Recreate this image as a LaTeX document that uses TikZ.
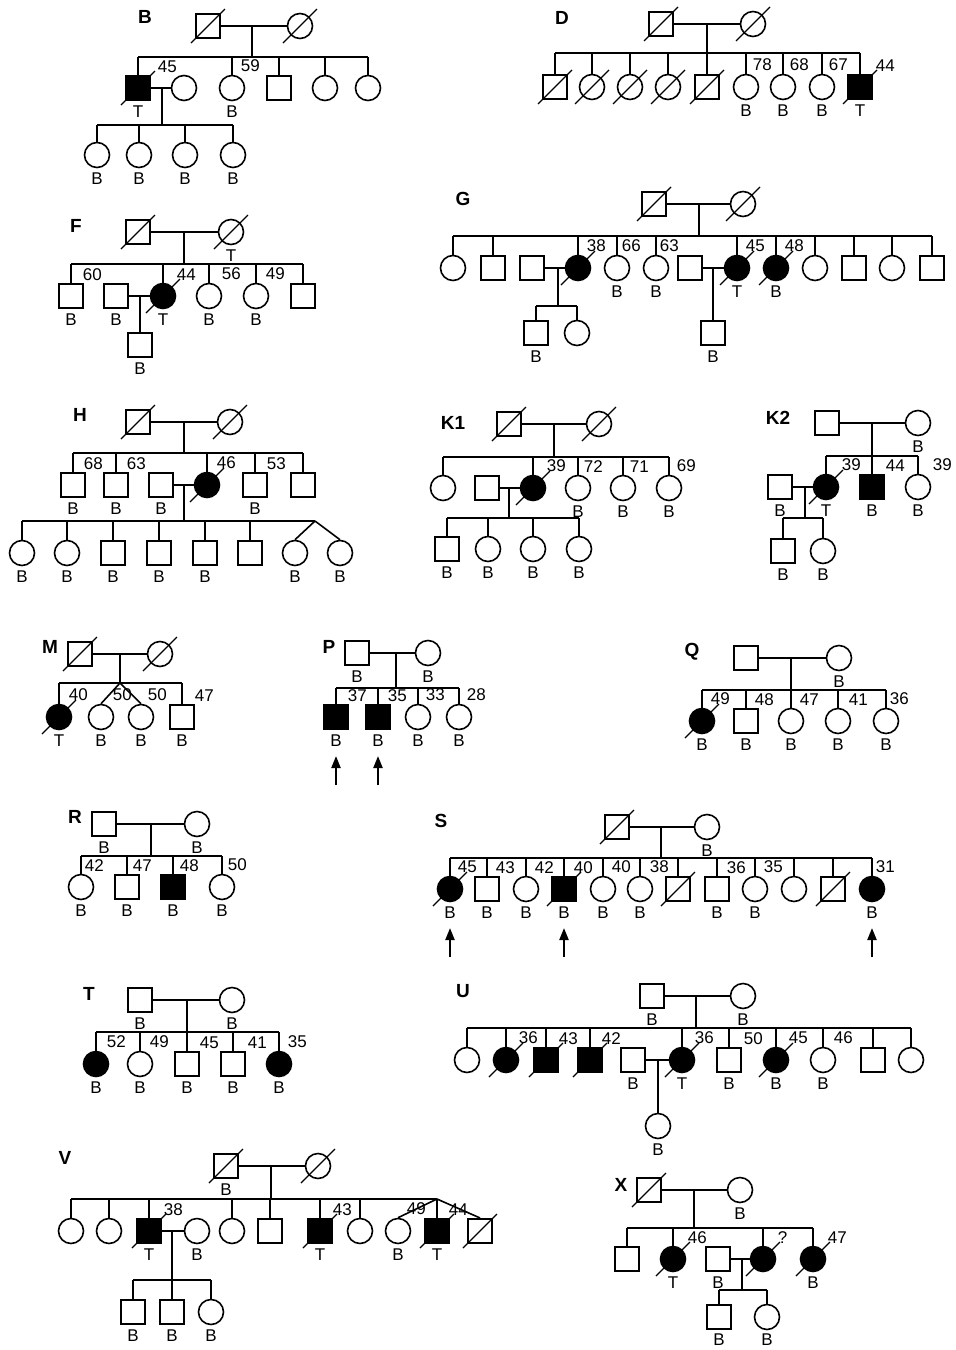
\documentclass[tikz,border=0pt]{standalone}
\usepackage{fontspec}
\setmainfont{Liberation Sans}
\usetikzlibrary{arrows.meta}
\tikzset{
  m/.style={draw, rectangle, minimum size=24.5pt, inner sep=0pt},
  f/.style={draw, circle, minimum size=25pt, inner sep=0pt},
  aff/.style={fill=black},
  fam/.style={font=\fontsize{19}{21}\selectfont\bfseries, inner sep=0pt},
  txt/.style={font=\fontsize{17}{19}\selectfont, inner sep=0pt},
  lb/.style={label={[txt, yshift=-4pt]below:#1}},
  agx/.style 2 args={label={[txt, anchor=south west, xshift=#1, yshift=1.75pt]above:#2}},
  ag/.style={agx={8pt}{#1}},
  dag/.style={agx={13pt}{#1}},
  slash/.style={line width=1.2pt},
  arr/.style={line width=2.2pt, -{Triangle[length=12pt,width=9pt]}},
}
\begin{document}
\begin{tikzpicture}[x=1pt, y=-1pt, line width=1.6pt]
\useasboundingbox (0,0) rectangle (956,1350);
% Family B
\node[fam] (Blab) at (145,17) {B};
\node[m] (B1) at (208,26) {};
\node[f] (B2) at (300,26) {};
\node[m,aff,lb=T,agx={19pt}{45}] (B3) at (138,88) {};
\node[f] (B4) at (184,88) {};
\node[f,lb=B,ag=59] (B5) at (232,88) {};
\node[m] (B6) at (279,88) {};
\node[f] (B7) at (325,88) {};
\node[f] (B8) at (368,88) {};
\node[f,lb=B] (B9) at (97,155) {};
\node[f,lb=B] (B10) at (139,155) {};
\node[f,lb=B] (B11) at (185,155) {};
\node[f,lb=B] (B12) at (233,155) {};
\coordinate (Bd) at (252,57);
\coordinate (Be) at (162,125);
\draw (B1) -- (B2);
\draw (Bd |- B1) -- (Bd);
\draw (B3 |- Bd) -- (B8 |- Bd);
\foreach \c in {B3,B5,B6,B7,B8} \draw (\c) -- (\c |- Bd);
\draw (B3) -- (B4);
\draw (Be |- B3) -- (Be);
\draw (B9 |- Be) -- (B12 |- Be);
\foreach \c in {B9,B10,B11,B12} \draw (\c) -- (\c |- Be);
\foreach \c in {B1,B2,B3} \draw[slash] (\c.center) +(-17,17) -- +(17,-17);
% Family D
\node[fam] (Dlab) at (562,18) {D};
\node[m] (D1) at (661,24) {};
\node[f] (D2) at (753,24) {};
\node[m] (D3) at (555,87) {};
\node[f] (D4) at (592,87) {};
\node[f] (D5) at (630,87) {};
\node[f] (D6) at (668,87) {};
\node[m] (D7) at (707,87) {};
\node[f,lb=B,agx={6pt}{78}] (D8) at (746,87) {};
\node[f,lb=B,agx={6pt}{68}] (D9) at (783,87) {};
\node[f,lb=B,agx={6pt}{67}] (D10) at (822,87) {};
\node[m,aff,lb=T,agx={15pt}{44}] (D11) at (860,87) {};
\coordinate (Dd) at (707,53);
\draw (D1) -- (D2);
\draw (Dd |- D1) -- (Dd);
\draw (D3 |- Dd) -- (D11 |- Dd);
\foreach \c in {D3,D4,D5,D6,D7,D8,D9,D10,D11} \draw (\c) -- (\c |- Dd);
\foreach \c in {D1,D2,D3,D4,D5,D6,D7,D11} \draw[slash] (\c.center) +(-17,17) -- +(17,-17);
% Family F
\node[fam] (Flab) at (76,226) {F};
\node[m] (F1) at (138,232) {};
\node[f,lb=T] (F2) at (231,232) {};
\node[m,lb=B,agx={11pt}{60}] (F3) at (71,296) {};
\node[m,lb=B] (F4) at (116,296) {};
\node[f,aff,lb=T,dag=44] (F5) at (163,296) {};
\node[f,lb=B,agx={12pt}{56}] (F6) at (209,296) {};
\node[f,lb=B,agx={9pt}{49}] (F7) at (256,296) {};
\node[m] (F8) at (303,296) {};
\node[m,lb=B] (F9) at (140,345) {};
\coordinate (Fd) at (184,264);
\draw (F1) -- (F2);
\draw (Fd |- F1) -- (Fd);
\draw (F3 |- Fd) -- (F8 |- Fd);
\foreach \c in {F3,F5,F6,F7,F8} \draw (\c) -- (\c |- Fd);
\draw (F4) -- (F5);
\draw (F9 |- F4) -- (F9);
\foreach \c in {F1,F2,F5} \draw[slash] (\c.center) +(-17,17) -- +(17,-17);
% Family G
\node[fam] (Glab) at (463,199) {G};
\node[m] (G1) at (654,204) {};
\node[f] (G2) at (743,204) {};
\node[f] (G3) at (453,268) {};
\node[m] (G4) at (493,268) {};
\node[m] (G5) at (532,268) {};
\node[f,aff,ag=38] (G6) at (578,268) {};
\node[f,lb=B,agx={4pt}{66}] (G7) at (617,268) {};
\node[f,lb=B,agx={3pt}{63}] (G8) at (656,268) {};
\node[m] (G9) at (690,268) {};
\node[f,aff,lb=T,ag=45] (G10) at (737,268) {};
\node[f,aff,lb=B,ag=48] (G11) at (776,268) {};
\node[f] (G12) at (815,268) {};
\node[m] (G13) at (854,268) {};
\node[f] (G14) at (892,268) {};
\node[m] (G15) at (932,268) {};
\node[m,lb=B] (G16) at (536,333) {};
\node[f] (G17) at (577,333) {};
\node[m,lb=B] (G18) at (713,333) {};
\coordinate (Gd) at (699,236);
\coordinate (Ge) at (558,306);
\draw (G1) -- (G2);
\draw (Gd |- G1) -- (Gd);
\draw (G3 |- Gd) -- (G15 |- Gd);
\foreach \c in {G3,G4,G6,G7,G8,G10,G11,G12,G13,G14,G15} \draw (\c) -- (\c |- Gd);
\draw (G5) -- (G6);
\draw (Ge |- G5) -- (Ge);
\draw (G16 |- Ge) -- (G17 |- Ge);
\foreach \c in {G16,G17} \draw (\c) -- (\c |- Ge);
\draw (G9) -- (G10);
\draw (G18 |- G9) -- (G18);
\foreach \c in {G1,G2,G6,G10,G11} \draw[slash] (\c.center) +(-17,17) -- +(17,-17);
% Family H
\node[fam] (Hlab) at (80,415) {H};
\node[m] (H1) at (138,422) {};
\node[f] (H2) at (230,422) {};
\node[m,lb=B,agx={10pt}{68}] (H3) at (73,485) {};
\node[m,lb=B,agx={10pt}{63}] (H4) at (116,485) {};
\node[m,lb=B] (H5) at (161,485) {};
\node[f,aff,agx={9pt}{46}] (H6) at (207,485) {};
\node[m,lb=B,agx={11pt}{53}] (H7) at (255,485) {};
\node[m] (H8) at (303,485) {};
\node[f,lb=B] (H9) at (22,553) {};
\node[f,lb=B] (H10) at (67,553) {};
\node[m,lb=B] (H11) at (113,553) {};
\node[m,lb=B] (H12) at (159,553) {};
\node[m,lb=B] (H13) at (205,553) {};
\node[m] (H14) at (250,553) {};
\node[f,lb=B] (H15) at (295,553) {};
\node[f,lb=B] (H16) at (340,553) {};
\coordinate (Hd) at (184,453);
\coordinate (He) at (184,521);
\coordinate (Ht) at (315,521);
\draw (H1) -- (H2);
\draw (Hd |- H1) -- (Hd);
\draw (H3 |- Hd) -- (H8 |- Hd);
\foreach \c in {H3,H4,H6,H7,H8} \draw (\c) -- (\c |- Hd);
\draw (H5) -- (H6);
\draw (He |- H5) -- (He);
\draw (H9 |- He) -- (Ht);
\foreach \c in {H9,H10,H11,H12,H13,H14} \draw (\c) -- (\c |- He);
\draw (Ht) -- (H15.north);
\draw (Ht) -- (H16.north);
\foreach \c in {H1,H2,H6} \draw[slash] (\c.center) +(-17,17) -- +(17,-17);
% Family K1
\node[fam] (K1lab) at (453,423) {K1};
\node[m] (K1a) at (509,424) {};
\node[f] (K1b) at (599,424) {};
\node[f] (K1c) at (443,488) {};
\node[m] (K1d) at (487,488) {};
\node[f,aff,dag=39] (K1e) at (533,488) {};
\node[f,lb=B,agx={5pt}{72}] (K1f) at (578,488) {};
\node[f,lb=B,agx={6pt}{71}] (K1g) at (623,488) {};
\node[f,lb=B,agx={7pt}{69}] (K1h) at (669,488) {};
\node[m,lb=B] (K1i) at (447,549) {};
\node[f,lb=B] (K1j) at (488,549) {};
\node[f,lb=B] (K1k) at (533,549) {};
\node[f,lb=B] (K1l) at (579,549) {};
\coordinate (K1s) at (554,457);
\coordinate (K1t) at (509,518);
\draw (K1a) -- (K1b);
\draw (K1s |- K1a) -- (K1s);
\draw (K1c |- K1s) -- (K1h |- K1s);
\foreach \c in {K1c,K1e,K1f,K1g,K1h} \draw (\c) -- (\c |- K1s);
\draw (K1d) -- (K1e);
\draw (K1t |- K1d) -- (K1t);
\draw (K1i |- K1t) -- (K1l |- K1t);
\foreach \c in {K1i,K1j,K1k,K1l} \draw (\c) -- (\c |- K1t);
\foreach \c in {K1a,K1b,K1e} \draw[slash] (\c.center) +(-17,17) -- +(17,-17);
% Family K2
\node[fam] (K2lab) at (778,418) {K2};
\node[m] (K2a) at (827,423) {};
\node[f,lb=B] (K2b) at (918,423) {};
\node[m,lb=B] (K2c) at (780,487) {};
\node[f,aff,lb=T,agx={15pt}{39}] (K2d) at (826,487) {};
\node[m,aff,lb=B,dag=44] (K2e) at (872,487) {};
\node[f,lb=B,agx={14pt}{39}] (K2f) at (918,487) {};
\node[m,lb=B] (K2g) at (783,551) {};
\node[f,lb=B] (K2h) at (823,551) {};
\coordinate (K2s) at (872,456);
\coordinate (K2t) at (805,518);
\draw (K2a) -- (K2b);
\draw (K2s |- K2a) -- (K2s);
\draw (K2d |- K2s) -- (K2f |- K2s);
\foreach \c in {K2d,K2e,K2f} \draw (\c) -- (\c |- K2s);
\draw (K2c) -- (K2d);
\draw (K2t |- K2c) -- (K2t);
\draw (K2g |- K2t) -- (K2h |- K2t);
\foreach \c in {K2g,K2h} \draw (\c) -- (\c |- K2t);
\draw[slash] (K2d.center) +(-17,17) -- +(17,-17);
% Family M
\node[fam] (Mlab) at (50,647) {M};
\node[m] (M1) at (80,654) {};
\node[f] (M2) at (160,654) {};
\node[f,aff,lb=T,agx={9pt}{40}] (M3) at (59,717) {};
\node[f,lb=B,agx={11pt}{50}] (M4) at (101,717) {};
\node[f,lb=B,agx={6pt}{50}] (M5) at (141,717) {};
\node[m,lb=B,agx={12pt}{47}] (M6) at (182,717) {};
\coordinate (Md) at (120,683);
\draw (M1) -- (M2);
\draw (Md |- M1) -- (Md);
\draw (M3 |- Md) -- (M6 |- Md);
\foreach \c in {M3,M6} \draw (\c) -- (\c |- Md);
\draw (Md) -- (M4.north);
\draw (Md) -- (M5.north);
\foreach \c in {M1,M2,M3} \draw[slash] (\c.center) +(-17,17) -- +(17,-17);
% Family P
\node[fam] (Plab) at (329,647) {P};
\node[m,lb=B] (P1) at (357,653) {};
\node[f,lb=B] (P2) at (428,653) {};
\node[m,aff,lb=B,agx={11pt}{37}] (P3) at (336,717) {};
\node[m,aff,lb=B,agx={9pt}{35}] (P4) at (378,717) {};
\node[f,lb=B,agx={7pt}{33}] (P5) at (418,717) {};
\node[f,lb=B,agx={7pt}{28}] (P6) at (459,717) {};
\coordinate (Pd) at (396,688);
\draw (P1) -- (P2);
\draw (Pd |- P1) -- (Pd);
\draw (P3 |- Pd) -- (P6 |- Pd);
\foreach \c in {P3,P4,P5,P6} \draw (\c) -- (\c |- Pd);
\coordinate (Pa1) at (336,785); \coordinate (Pb1) at (336,756);
\coordinate (Pa2) at (378,785); \coordinate (Pb2) at (378,756);
\draw[arr] (Pa1) -- (Pb1);
\draw[arr] (Pa2) -- (Pb2);
% Family Q
\node[fam] (Qlab) at (692,652) {Q};
\node[m] (Q1) at (746,658) {};
\node[f,lb=B] (Q2) at (839,658) {};
\node[f,aff,lb=B,ag=49] (Q3) at (702,721) {};
\node[m,lb=B,ag=48] (Q4) at (746,721) {};
\node[f,lb=B,ag=47] (Q5) at (791,721) {};
\node[f,lb=B,agx={10pt}{41}] (Q6) at (838,721) {};
\node[f,lb=B,agx={3pt}{36}] (Q7) at (886,721) {};
\coordinate (Qd) at (791,690);
\draw (Q1) -- (Q2);
\draw (Qd |- Q1) -- (Qd);
\draw (Q3 |- Qd) -- (Q7 |- Qd);
\foreach \c in {Q3,Q4,Q5,Q6,Q7} \draw (\c) -- (\c |- Qd);
\draw[slash] (Q3.center) +(-17,17) -- +(17,-17);
% Family R
\node[fam] (Rlab) at (75,817) {R};
\node[m,lb=B] (R1) at (104,824) {};
\node[f,lb=B] (R2) at (197,824) {};
\node[f,lb=B,agx={3pt}{42}] (R3) at (81,887) {};
\node[m,lb=B,agx={5pt}{47}] (R4) at (127,887) {};
\node[m,aff,lb=B,agx={6pt}{48}] (R5) at (173,887) {};
\node[f,lb=B,agx={5pt}{50}] (R6) at (222,887) {};
\coordinate (Rd) at (151,856);
\draw (R1) -- (R2);
\draw (Rd |- R1) -- (Rd);
\draw (R3 |- Rd) -- (R6 |- Rd);
\foreach \c in {R3,R4,R5,R6} \draw (\c) -- (\c |- Rd);
% Family S
\node[fam] (Slab) at (441,821) {S};
\node[m] (S1) at (617,827) {};
\node[f,lb=B] (S2) at (707,827) {};
\node[f,aff,lb=B,agx={7pt}{45}] (S3) at (450,889) {};
\node[m,lb=B,ag=43] (S4) at (487,889) {};
\node[f,lb=B,ag=42] (S5) at (526,889) {};
\node[m,aff,lb=B,agx={9pt}{40}] (S6) at (564,889) {};
\node[f,lb=B,ag=40] (S7) at (603,889) {};
\node[f,lb=B,agx={9pt}{38}] (S8) at (640,889) {};
\node[m] (S9) at (678,889) {};
\node[m,lb=B,agx={9pt}{36}] (S10) at (717,889) {};
\node[f,lb=B,ag=35] (S11) at (755,889) {};
\node[f] (S12) at (794,889) {};
\node[m] (S13) at (833,889) {};
\node[f,aff,lb=B,agx={3pt}{31}] (S14) at (872,889) {};
\coordinate (Sd) at (661,858);
\draw (S1) -- (S2);
\draw (Sd |- S1) -- (Sd);
\draw (S3 |- Sd) -- (S14 |- Sd);
\foreach \c in {S3,S4,S5,S6,S7,S8,S9,S10,S11,S12,S13,S14} \draw (\c) -- (\c |- Sd);
\foreach \c in {S1,S3,S6,S9,S13} \draw[slash] (\c.center) +(-17,17) -- +(17,-17);
\coordinate (Sa1) at (450,957); \coordinate (Sb1) at (450,928);
\coordinate (Sa2) at (564,957); \coordinate (Sb2) at (564,928);
\coordinate (Sa3) at (872,957); \coordinate (Sb3) at (872,928);
\draw[arr] (Sa1) -- (Sb1);
\draw[arr] (Sa2) -- (Sb2);
\draw[arr] (Sa3) -- (Sb3);
% Family T
\node[fam] (Tlab) at (89,994) {T};
\node[m,lb=B] (T1) at (140,1000) {};
\node[f,lb=B] (T2) at (232,1000) {};
\node[f,aff,lb=B,agx={10pt}{52}] (T3) at (96,1064) {};
\node[f,lb=B,agx={9pt}{49}] (T4) at (140,1064) {};
\node[m,lb=B,agx={12pt}{45}] (T5) at (187,1064) {};
\node[m,lb=B,agx={14pt}{41}] (T6) at (233,1064) {};
\node[f,aff,lb=B,ag=35] (T7) at (279,1064) {};
\coordinate (Td) at (187,1032);
\draw (T1) -- (T2);
\draw (Td |- T1) -- (Td);
\draw (T3 |- Td) -- (T7 |- Td);
\foreach \c in {T3,T4,T5,T6,T7} \draw (\c) -- (\c |- Td);
% Family U
\node[fam] (Ulab) at (463,991) {U};
\node[m,lb=B] (U1) at (652,996) {};
\node[f,lb=B] (U2) at (743,996) {};
\node[f] (U3) at (467,1060) {};
\node[f,aff,agx={12pt}{36}] (U4) at (506,1060) {};
\node[m,aff,agx={12pt}{43}] (U5) at (546,1060) {};
\node[m,aff,agx={11pt}{42}] (U6) at (590,1060) {};
\node[m,lb=B] (U7) at (633,1060) {};
\node[f,aff,lb=T,agx={12pt}{36}] (U8) at (682,1060) {};
\node[m,lb=B,agx={14pt}{50}] (U9) at (729,1060) {};
\node[f,aff,lb=B,agx={12pt}{45}] (U10) at (776,1060) {};
\node[f,lb=B,agx={10pt}{46}] (U11) at (823,1060) {};
\node[m] (U12) at (873,1060) {};
\node[f] (U13) at (911,1060) {};
\node[f,lb=B] (U14) at (658,1126) {};
\coordinate (Ud) at (696,1028);
\draw (U1) -- (U2);
\draw (Ud |- U1) -- (Ud);
\draw (U3 |- Ud) -- (U13 |- Ud);
\foreach \c in {U3,U4,U5,U6,U8,U9,U10,U11,U12,U13} \draw (\c) -- (\c |- Ud);
\draw (U7) -- (U8);
\draw (U14 |- U7) -- (U14);
\foreach \c in {U4,U5,U6,U8,U10} \draw[slash] (\c.center) +(-17,17) -- +(17,-17);
% Family V
\node[fam] (Vlab) at (65,1158) {V};
\node[m,lb=B] (V1) at (226,1166) {};
\node[f] (V2) at (318,1166) {};
\node[f] (V3) at (71,1231) {};
\node[f] (V4) at (109,1231) {};
\node[m,aff,lb=T,agx={14pt}{38}] (V5) at (149,1231) {};
\node[f,lb=B] (V6) at (197,1231) {};
\node[f] (V7) at (232,1231) {};
\node[m] (V8) at (270,1231) {};
\node[m,aff,lb=T,agx={12pt}{43}] (V9) at (320,1231) {};
\node[f] (V10) at (360,1231) {};
\node[f,lb=B,agx={8pt}{49}] (V11) at (398,1231) {};
\node[m,aff,lb=T,label={[txt,fill=white,anchor=south west,xshift=11pt,yshift=1.75pt]above:44}] (V12) at (437,1231) {};
\node[m] (V13) at (480,1231) {};
\node[m,lb=B] (V14) at (133,1312) {};
\node[m,lb=B] (V15) at (172,1312) {};
\node[f,lb=B] (V16) at (211,1312) {};
\coordinate (Vd) at (271,1199);
\coordinate (Ve) at (172,1280);
\draw (V1) -- (V2);
\draw (Vd |- V1) -- (Vd);
\draw (V3 |- Vd) -- (V12 |- Vd);
\foreach \c in {V3,V4,V5,V7,V8,V9,V10,V12} \draw (\c) -- (\c |- Vd);
\draw (V12 |- Vd) -- (V11.north);
\draw (V12 |- Vd) -- (V13.north);
\draw (V5) -- (V6);
\draw (Ve |- V5) -- (Ve);
\draw (V14 |- Ve) -- (V16 |- Ve);
\foreach \c in {V14,V15,V16} \draw (\c) -- (\c |- Ve);
\foreach \c in {V1,V2,V5,V9,V12,V13} \draw[slash] (\c.center) +(-17,17) -- +(17,-17);
% Family X
\node[fam] (Xlab) at (621,1185) {X};
\node[m] (X1) at (649,1190) {};
\node[f,lb=B] (X2) at (740,1190) {};
\node[m] (X3) at (627,1259) {};
\node[f,aff,lb=T,agx={14pt}{46}] (X4) at (673,1259) {};
\node[m,lb=B] (X5) at (718,1259) {};
\node[f,aff,agx={14pt}{?}] (X6) at (763,1259) {};
\node[f,aff,lb=B,agx={14pt}{47}] (X7) at (813,1259) {};
\node[m,label={[txt, yshift=-3pt]below:B}] (X8) at (719,1317) {};
\node[f,label={[txt, yshift=-3pt]below:B}] (X9) at (767,1317) {};
\coordinate (Xd) at (694,1228);
\coordinate (Xe) at (742,1290);
\draw (X1) -- (X2);
\draw (Xd |- X1) -- (Xd);
\draw (X3 |- Xd) -- (X7 |- Xd);
\foreach \c in {X3,X4,X6,X7} \draw (\c) -- (\c |- Xd);
\draw (X5) -- (X6);
\draw (Xe |- X5) -- (Xe);
\draw (X8 |- Xe) -- (X9 |- Xe);
\foreach \c in {X8,X9} \draw (\c) -- (\c |- Xe);
\foreach \c in {X1,X4,X6,X7} \draw[slash] (\c.center) +(-17,17) -- +(17,-17);
\end{tikzpicture}
\end{document}
